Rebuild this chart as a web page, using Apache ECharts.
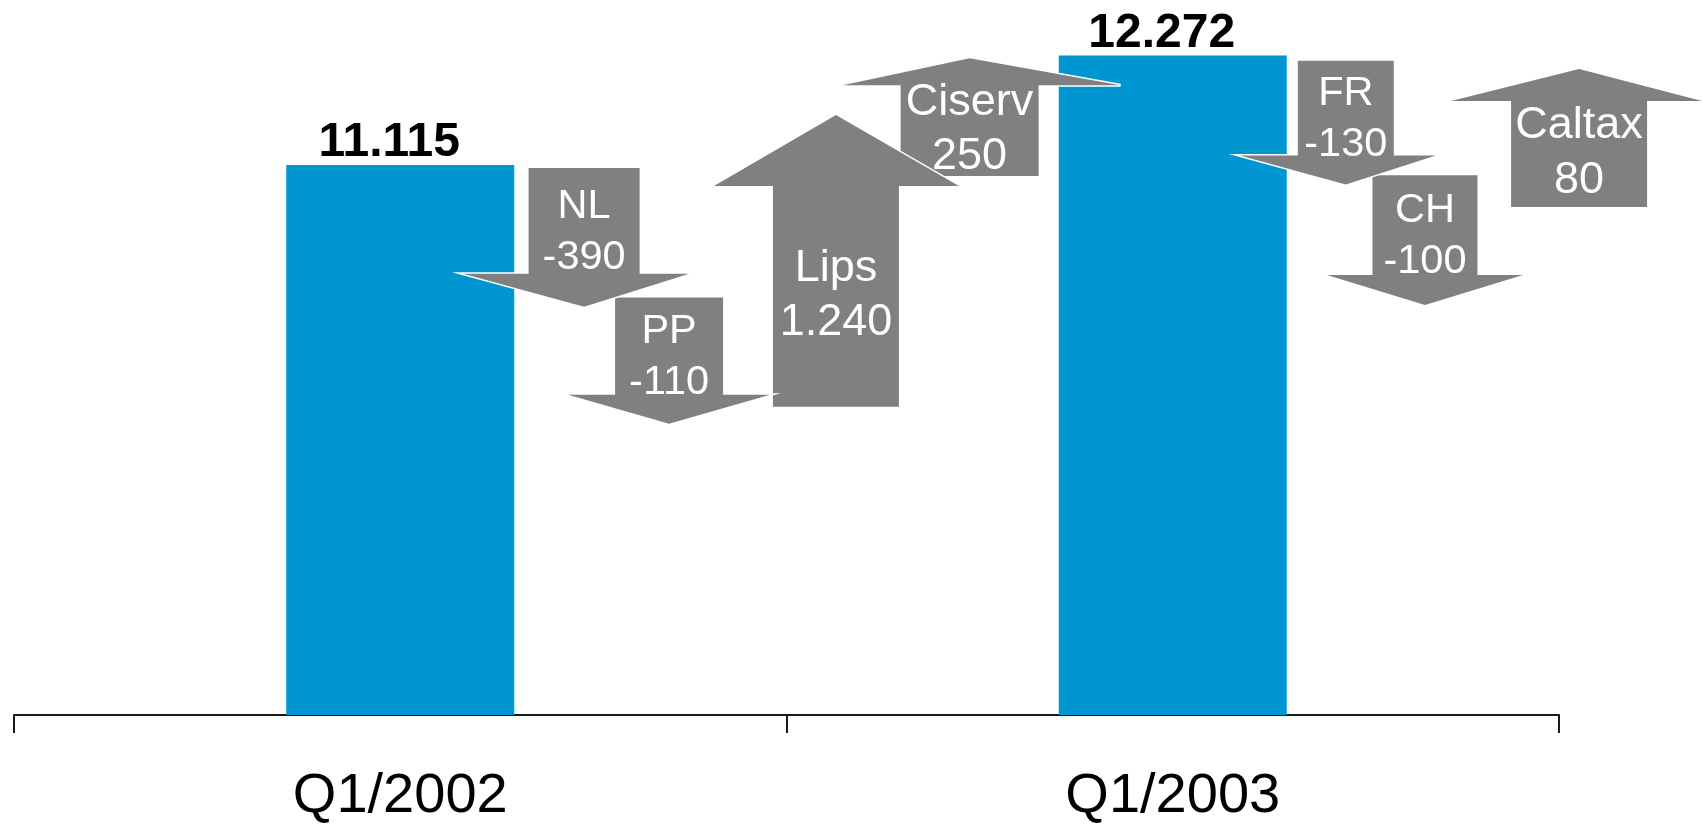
<!DOCTYPE html>
<html>
<head>
<meta charset="utf-8">
<script src="https://cdn.jsdelivr.net/npm/echarts@6/dist/echarts.min.js"></script>
<style>
html,body{margin:0;padding:0;background:#fff;}
#chart{width:1702px;height:825px;}
</style>
</head>
<body>
<div id="chart"></div>
<script>
// ---- data ----
const categories = ['Q1/2002', 'Q1/2003'];
const totals = [11115, 12272];
const totalLabels = ['11.115', '12.272'];
const changeNames = ['NL', 'PP', 'Lips', 'Ciserv', 'FR', 'CH', 'Caltax'];
const changeValues = [-390, -110, 1240, 250, -130, -100, 80];
const changeLabels = ['-390', '-110', '1.240', '250', '-130', '-100', '80'];

// ---- schematic arrow layout (arrows are not to scale in the original) ----
const arrowSlot  = [0.738, 0.848, 1.064, 1.237, 1.724, 1.8265, 2.026]; // band units, hidden x axis
const arrowFrom  = [76.5, 58.4, 43.1, 75.4, 91.5, 75.5, 71.05];        // schematic level 0..100
const arrowTo    = [57.1, 40.75, 83.9, 91.85, 74.2, 57.35, 90.35];
const arrowShaft = [111, 108, 126, 138, 96, 105, 136];
const arrowHeadL = [121, 101, 122, 127, 106, 98, 128];
const arrowHeadR = [105, 101, 123, 151, 90, 98, 123];
const arrowHeadH = [33, 29, 71, 27, 29, 30, 32];

const FONT = '"Liberation Sans", Arial, sans-serif';
const N = changeNames.length;

function renderArrow(params, api) {
  const i = params.dataIndex;
  const start = api.coord([api.value(0), api.value(1)]);
  const end = api.coord([api.value(0), api.value(2)]);
  const cx = start[0], y0 = start[1], y1 = end[1];
  const up = changeValues[i] > 0;
  const dir = up ? -1 : 1;
  const hs = arrowShaft[i] / 2;
  const base = y1 - dir * arrowHeadH[i];
  const pts = [
    [cx - hs, y0], [cx + hs, y0], [cx + hs, base], [cx + arrowHeadR[i], base],
    [cx, y1], [cx - arrowHeadL[i], base], [cx - hs, base]
  ];
  const fs = up ? 45 : 41.5;
  const lh = up ? 54.5 : 51;
  const ty = (y0 + base) / 2 + (up ? -1 : 11);
  const zb = 10 + 2 * (N - i);
  return {
    type: 'group',
    children: [
      {
        type: 'polygon',
        shape: { points: pts },
        style: { fill: '#ffffff', stroke: '#ffffff', lineWidth: 3, lineJoin: 'miter' },
        z2: zb
      },
      {
        type: 'polygon',
        shape: { points: pts },
        style: { fill: '#808080' },
        z2: zb + 1
      },
      {
        type: 'text',
        x: cx, y: ty,
        style: {
          text: changeNames[i] + '\n' + changeLabels[i],
          fill: '#ffffff',
          fontSize: fs, lineHeight: lh, fontFamily: FONT,
          align: 'center', verticalAlign: 'middle',
          textAlign: 'center', textVerticalAlign: 'middle'
        },
        z2: 100
      }
    ]
  };
}

const chart = echarts.init(document.getElementById('chart'));
chart.setOption({
  animation: false,
  backgroundColor: '#ffffff',
  grid: { left: 14, right: 143, top: 0, bottom: 106, containLabel: false },
  xAxis: [
    {
      type: 'category',
      data: categories,
      axisLine: { onZero: false, lineStyle: { color: '#1a1a1a', width: 2 } },
      axisTick: { show: true, length: 18, lineStyle: { color: '#1a1a1a', width: 2 } },
      axisLabel: { fontSize: 56, color: '#000', margin: 54, lineHeight: 56, fontFamily: FONT },
      splitLine: { show: false }
    },
    { type: 'value', min: 0, max: 2, show: false }
  ],
  yAxis: [
    { type: 'value', min: 5300, max: 12860, show: false },
    { type: 'value', min: 0, max: 100, show: false }
  ],
  series: [
    {
      type: 'bar',
      data: totals,
      barWidth: 228,
      itemStyle: { color: '#0096d2' },
      label: {
        show: true, position: 'top', distance: 2, offset: [-11, 4],
        formatter: p => totalLabels[p.dataIndex],
        fontSize: 48, fontWeight: 'bold', color: '#000', lineHeight: 48, fontFamily: FONT
      },
      z: 2
    },
    {
      type: 'custom',
      xAxisIndex: 1, yAxisIndex: 1,
      data: arrowSlot.map((x, i) => [x, arrowFrom[i], arrowTo[i]]),
      renderItem: renderArrow,
      clip: false,
      z: 3
    }
  ]
});
</script>
</body>
</html>
